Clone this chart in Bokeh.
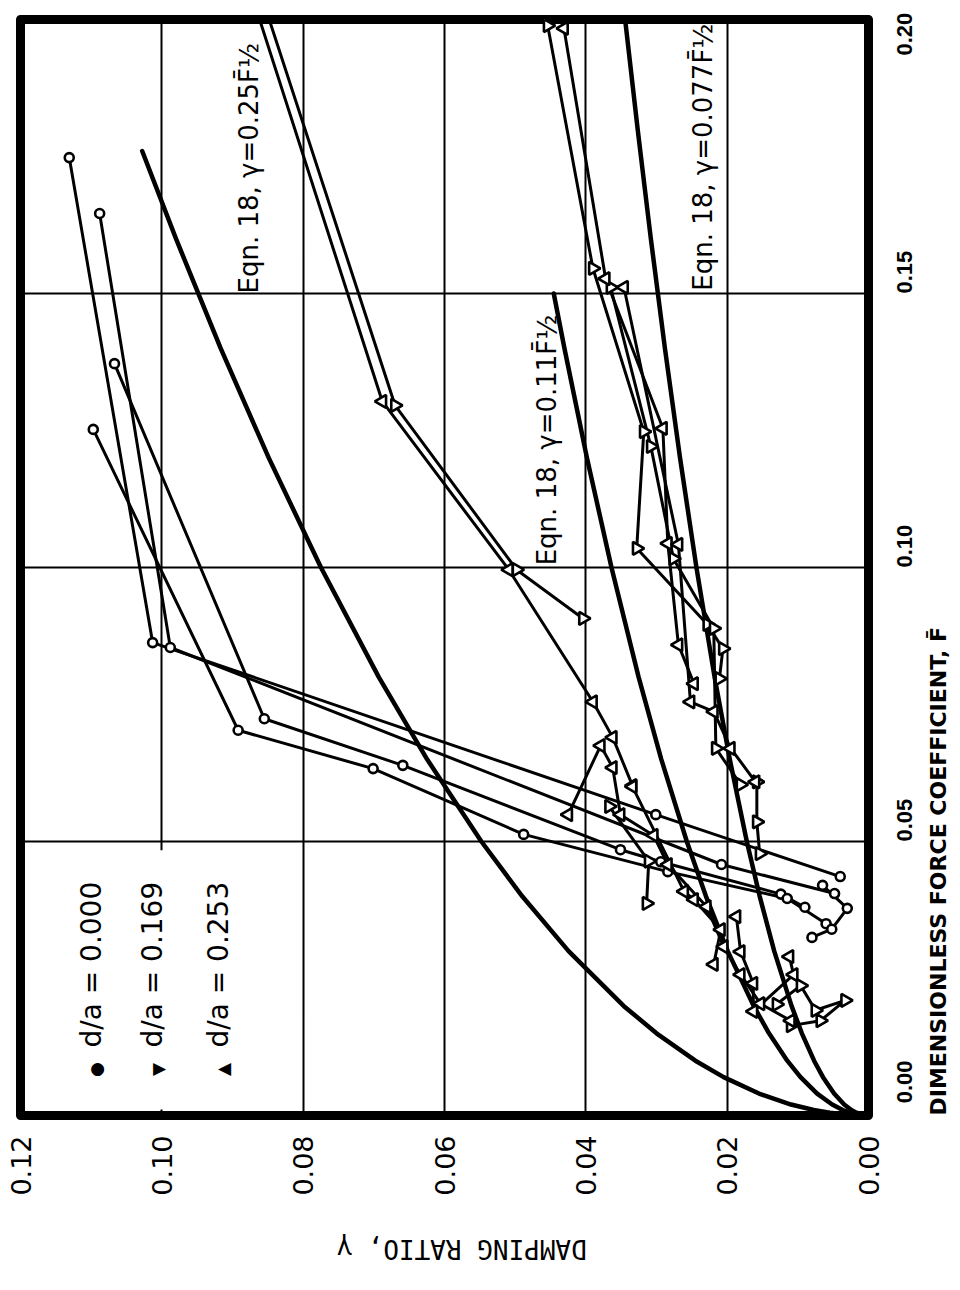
import math
from bokeh.plotting import figure
from bokeh.models import Range1d, FixedTicker, Label, BoxAnnotation
from bokeh.embed import file_html
from bokeh.resources import INLINE

NBSP = "\u00a0"

# ---------------- axes ----------------
gamma_ticks = [0.00, 0.02, 0.04, 0.06, 0.08, 0.10, 0.12]
gamma_tick_labels = ["0.00", "0.02", "0.04", "0.06", "0.08", "0.10", "0.12"]
F_ticks = [0.00, 0.05, 0.10, 0.15, 0.20]
F_tick_labels = ["0.00", "0.05", "0.10", "0.15", "0.20"]
x_title = "DAMPING RATIO, \u03b3"
y_title = "DIMENSIONLESS FORCE COEFFICIENT, F\u0304"

# ---------------- Eqn. 18 curves ----------------
eq25_F = [0, 0.0001, 0.0005, 0.001, 0.002, 0.004, 0.007, 0.01, 0.015, 0.02, 0.03, 0.04, 0.05,
          0.065, 0.08, 0.1, 0.12, 0.14, 0.16, 0.176]
eq25_gamma = [0, 0.00245, 0.00548, 0.00775, 0.01096, 0.0155, 0.0205, 0.0245, 0.0300, 0.03465,
              0.04244, 0.049, 0.05478, 0.06246, 0.0693, 0.07748, 0.08487, 0.09167, 0.098, 0.10278]
eq11_F = [0, 0.0001, 0.0005, 0.001, 0.002, 0.004, 0.007, 0.01, 0.015, 0.02, 0.03, 0.04, 0.05,
          0.065, 0.08, 0.1, 0.12, 0.14, 0.15]
eq11_gamma = [0, 0.00115, 0.00257, 0.00364, 0.00514, 0.00727, 0.00962, 0.0115, 0.01408, 0.01626,
              0.01992, 0.023, 0.02571, 0.02932, 0.03253, 0.03637, 0.03984, 0.04303, 0.04454]
eq077_F = [0, 0.0001, 0.0005, 0.001, 0.002, 0.004, 0.007, 0.01, 0.015, 0.02, 0.03, 0.04, 0.05,
           0.065, 0.08, 0.1, 0.12, 0.14, 0.16, 0.18, 0.2]
eq077_gamma = [0, 0.00077, 0.00172, 0.00243, 0.00344, 0.00487, 0.00644, 0.0077, 0.00943, 0.01089,
               0.01334, 0.0154, 0.01722, 0.01963, 0.02178, 0.02435, 0.02667, 0.02881, 0.0308,
               0.03267, 0.03444]

# ---------------- d/a = 0.000 (circles) ----------------
c1_F = [0.1748, 0.0863, 0.0549, 0.0436]
c1_gamma = [0.1131, 0.1013, 0.0301, 0.0040]
c2_F = [0.1646, 0.0854, 0.0458, 0.0405]
c2_gamma = [0.1088, 0.0988, 0.0208, 0.0048]
c3_F = [0.1372, 0.0724, 0.0639, 0.0485, 0.0463, 0.0404, 0.0380]
c3_gamma = [0.1067, 0.0855, 0.0659, 0.0351, 0.0294, 0.0124, 0.0090]
c4_F = [0.1252, 0.0703, 0.0633, 0.0513, 0.0445, 0.0396, 0.0350]
c4_gamma = [0.1097, 0.0892, 0.0701, 0.0488, 0.0284, 0.0115, 0.0060]
c5_F = [0.0420, 0.0378, 0.0340, 0.0325]
c5_gamma = [0.0065, 0.0030, 0.0052, 0.0080]

# ---------------- d/a = 0.169 (triangles, pointing right on the page) ----------------
u169_F = [0.2150, 0.1296, 0.0996, 0.0907]
u169_gamma = [0.0886, 0.0670, 0.0498, 0.0404]
r1_F = [0.1989, 0.1546, 0.1248, 0.1035, 0.0896, 0.0852, 0.0797]
r1_gamma = [0.0454, 0.0390, 0.0318, 0.0328, 0.0228, 0.0206, 0.0211]
r3_F = [0.1511, 0.1221, 0.1016, 0.0889, 0.0670, 0.0604]
r3_gamma = [0.0365, 0.0308, 0.0276, 0.0219, 0.0216, 0.0181]
lc_F = [0.0564, 0.0464, 0.0387]
lc_gamma = [0.0367, 0.0311, 0.0314]
le_F = [0.0609, 0.0536, 0.0478]
le_gamma = [0.0158, 0.0158, 0.0154]
lg_F = [0.0203, 0.0237, 0.0192, 0.0210, 0.0173, 0.0164]
lg_gamma = [0.0130, 0.0096, 0.0075, 0.0033, 0.0068, 0.0110]

# ---------------- d/a = 0.253 (triangles, pointing left on the page) ----------------
u253_F = [0.2150, 0.1303, 0.0996, 0.0755, 0.0690, 0.0602]
u253_gamma = [0.0899, 0.0688, 0.0509, 0.0390, 0.0362, 0.0334]
r2_F = [0.1984, 0.1527, 0.1254, 0.1044, 0.0859, 0.0788]
r2_gamma = [0.0431, 0.0372, 0.0291, 0.0284, 0.0269, 0.0247]
r4_F = [0.1511, 0.1042, 0.0755, 0.0737, 0.0670, 0.0609]
r4_gamma = [0.0346, 0.0269, 0.0252, 0.0219, 0.0195, 0.0160]
lb_F = [0.0549, 0.0675, 0.0635, 0.0549, 0.0511, 0.0458, 0.0381, 0.0308, 0.0257, 0.0204, 0.0173]
lb_gamma = [0.0425, 0.0379, 0.0362, 0.0351, 0.0304, 0.0284, 0.0229, 0.0205, 0.0181, 0.0153, 0.0110]
ld_F = [0.0600, 0.0409, 0.0394, 0.0339, 0.0276]
ld_gamma = [0.0334, 0.0261, 0.0247, 0.0209, 0.0219]
lf_F = [0.0363, 0.0299, 0.0241, 0.0190, 0.0257, 0.0290]
lf_gamma = [0.0187, 0.0181, 0.0163, 0.0163, 0.0106, 0.0112]

circle_runs = [(c1_F, c1_gamma), (c2_F, c2_gamma), (c3_F, c3_gamma), (c4_F, c4_gamma), (c5_F, c5_gamma)]
tri169_runs = [(u169_F, u169_gamma), (r1_F, r1_gamma), (r3_F, r3_gamma), (lc_F, lc_gamma),
               (le_F, le_gamma), (lg_F, lg_gamma)]
tri253_runs = [(u253_F, u253_gamma), (r2_F, r2_gamma), (r4_F, r4_gamma), (lb_F, lb_gamma),
               (ld_F, ld_gamma), (lf_F, lf_gamma)]

legend_labels = ["d/a = 0.000", "d/a = 0.169", "d/a = 0.253"]
curve_labels = ["Eqn. 18, \u03b3=0.25F\u0304\u00bd", "Eqn. 18, \u03b3=0.11F\u0304\u00bd",
                "Eqn. 18, \u03b3=0.077F\u0304\u00bd"]

# ---------------- figure ----------------
p = figure(frame_width=848, frame_height=1096,
           x_range=Range1d(0.12, 0.0), y_range=Range1d(0.0, 0.2),
           output_backend="svg", toolbar_location=None, y_axis_location="right",
           min_border_left=20, min_border_top=19, min_border_right=0, min_border_bottom=0)
p.background_fill_color = "white"
p.border_fill_color = "white"
p.outline_line_color = "black"
p.outline_line_width = 9
p.outline_line_join = "round"

p.xgrid.ticker = FixedTicker(ticks=[0.02, 0.04, 0.06, 0.08, 0.10])
p.ygrid.ticker = FixedTicker(ticks=[0.05, 0.10, 0.15])
for g in (p.xgrid, p.ygrid):
    g.grid_line_color = "black"
    g.grid_line_width = 2
    g.grid_line_alpha = 1.0

xa = p.xaxis[0]
xa.ticker = FixedTicker(ticks=gamma_ticks)
xa.major_label_overrides = {t: s for t, s in zip(gamma_ticks, gamma_tick_labels)}
xa.major_label_orientation = math.pi / 2
xa.major_label_text_font = "DejaVu Sans"
xa.major_label_text_font_size = "27px"
xa.major_label_text_color = "black"
xa.major_label_standoff = 20
# upside-down title (the page is turned); padded so that it sits left of centre as on the page
xa.axis_label = NBSP * 18 + x_title
xa.axis_label_orientation = -math.pi
xa.axis_label_align = "start"
xa.axis_label_text_font = "DejaVu Sans Mono"
xa.axis_label_text_font_style = "normal"
xa.axis_label_text_font_size = "26px"
xa.axis_label_text_color = "black"
xa.axis_label_standoff = 50

ya = p.yaxis[0]
ya.ticker = FixedTicker(ticks=F_ticks)
ya.major_label_overrides = {0.0: NBSP * 2 + F_tick_labels[0], 0.05: F_tick_labels[1],
                            0.10: F_tick_labels[2], 0.15: F_tick_labels[3],
                            0.20: F_tick_labels[4] + NBSP * 2}
ya.major_label_orientation = math.pi / 2
ya.major_label_text_font = "Liberation Sans"
ya.major_label_text_font_style = "bold"
ya.major_label_text_font_size = "22px"
ya.major_label_text_color = "black"
ya.major_label_standoff = 36
ya.axis_label = y_title
ya.axis_label_orientation = math.pi / 2
ya.axis_label_align = "start"
ya.axis_label_text_font = "DejaVu Sans"
ya.axis_label_text_font_style = "bold"
ya.axis_label_text_font_size = "22px"
ya.axis_label_text_color = "black"
ya.axis_label_standoff = 6
for ax in (xa, ya):
    ax.axis_line_color = None
    ax.major_tick_line_color = None
    ax.minor_tick_line_color = None
    ax.major_tick_out = 0
    ax.major_tick_in = 0
    ax.minor_tick_out = 0
    ax.minor_tick_in = 0

# white patch behind the legend (grid line is interrupted there)
p.add_layout(BoxAnnotation(left=0.1192, right=0.0835, bottom=0.0011, top=0.0484,
                           fill_color="white", fill_alpha=1.0, line_color=None, level="underlay"))

# curves
for fx, gy in ((eq25_F, eq25_gamma), (eq11_F, eq11_gamma), (eq077_F, eq077_gamma)):
    p.line(gy, fx, line_color="black", line_width=4.5, line_join="round", line_cap="round")

# data lines
for runs in (circle_runs, tri169_runs, tri253_runs):
    for fx, gy in runs:
        p.line(gy, fx, line_color="black", line_width=3, line_join="round")

for fx, gy in circle_runs:
    p.scatter(gy, fx, marker="circle", size=9, fill_color="white", line_color="black", line_width=2.6)
for fx, gy in tri169_runs:
    p.scatter(gy, fx, marker="triangle", angle=-math.pi / 2, size=13, fill_color="white",
              line_color="black", line_width=2.6)
for fx, gy in tri253_runs:
    p.scatter(gy, fx, marker="triangle", angle=math.pi / 2, size=13, fill_color="white",
              line_color="black", line_width=2.6)

# curve labels (rotated like the page)
for txt, gx, fy in zip(curve_labels, [0.0877, 0.0455, 0.0234], [0.150, 0.1004, 0.1505]):
    p.add_layout(Label(x=gx, y=fy, text=txt, angle=math.pi / 2, text_font="DejaVu Sans",
                       text_font_size="26px", text_color="black", text_align="left",
                       text_baseline="alphabetic"))

# legend
key_chars = ["\u25cf", "\u25bc", "\u25b2"]
for txt, key, gx in zip(legend_labels, key_chars, [0.1100, 0.1013, 0.0920]):
    p.add_layout(Label(x=gx, y=0.0124, text=txt, angle=math.pi / 2, text_font="DejaVu Sans",
                       text_font_size="28px", text_color="black", text_align="left",
                       text_baseline="alphabetic"))
    p.add_layout(Label(x=gx - 0.0007, y=0.0084, text=key, angle=math.pi / 2, text_font="DejaVu Sans",
                       text_font_size="17px", text_color="black", text_align="center",
                       text_baseline="middle"))

open("out.html", "w").write(file_html(p, INLINE))
